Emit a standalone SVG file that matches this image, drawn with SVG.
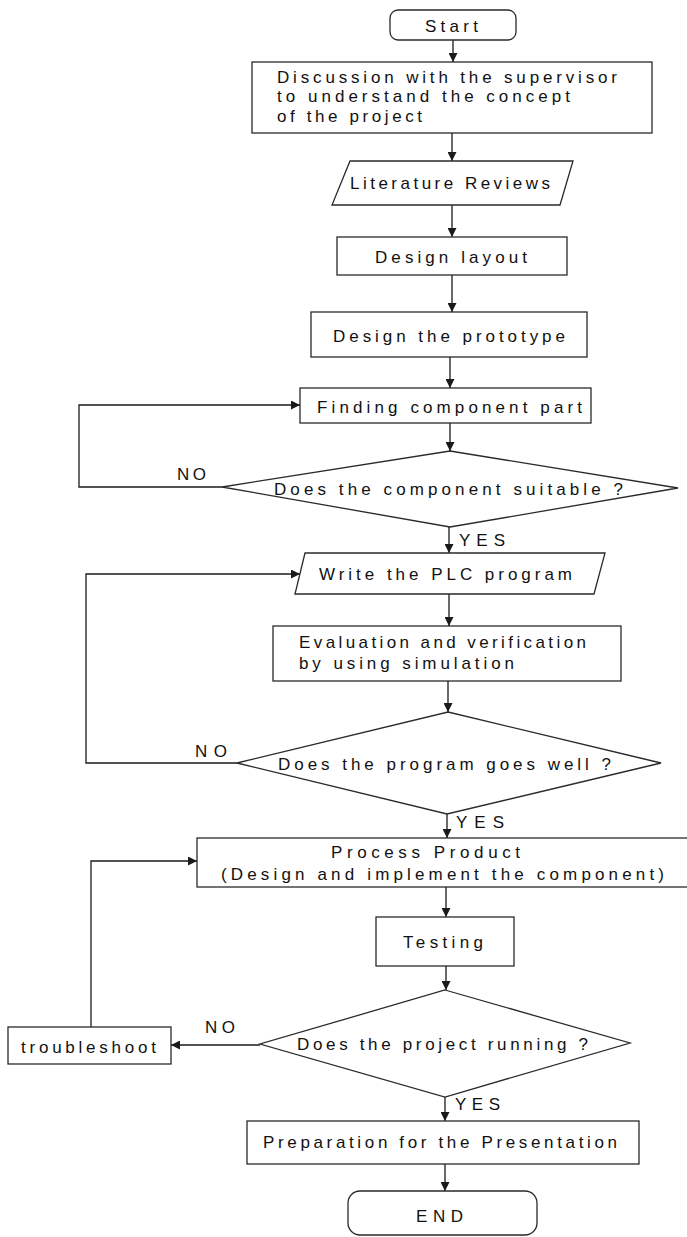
<svg xmlns="http://www.w3.org/2000/svg" width="687" height="1237" viewBox="0 0 687 1237">
<defs>
<marker id="ah" viewBox="0 0 10 10" refX="10" refY="5" markerWidth="9" markerHeight="9" markerUnits="userSpaceOnUse" orient="auto">
<path d="M0,0 L10,5 L0,10 z" fill="#1a1a1a"/>
</marker>
<style>
.n{fill:#fff;stroke:#2a2a2a;stroke-width:1.3}
.t{font-family:"Liberation Sans",Arial,sans-serif;font-size:17px;fill:#111}
.c{fill:none;stroke:#1a1a1a;stroke-width:1.3}
.ca{fill:none;stroke:#1a1a1a;stroke-width:1.3;marker-end:url(#ah)}
</style>
</defs>
<rect width="687" height="1237" fill="#fff"/>

<g id="connectors">
<line class="ca" x1="453" y1="40" x2="453" y2="62"/>
<line class="ca" x1="452" y1="133" x2="452" y2="161"/>
<line class="ca" x1="452" y1="205" x2="452" y2="237"/>
<line class="ca" x1="452" y1="275" x2="452" y2="312"/>
<line class="ca" x1="450" y1="357" x2="450" y2="388"/>
<line class="ca" x1="450" y1="423" x2="450" y2="451"/>
<polyline class="ca" points="222,487 79,487 79,405 300,405"/>
<line class="ca" x1="449" y1="527" x2="449" y2="553"/>
<line class="ca" x1="449" y1="594" x2="449" y2="626"/>
<line class="ca" x1="448" y1="681" x2="448" y2="712"/>
<polyline class="ca" points="237,763 86,763 86,574 300,574"/>
<line class="ca" x1="447" y1="814" x2="447" y2="838"/>
<line class="ca" x1="446" y1="887" x2="446" y2="917"/>
<line class="ca" x1="446" y1="966" x2="446" y2="990"/>
<line class="ca" x1="260" y1="1045" x2="171" y2="1045"/>
<polyline class="ca" points="91,1027 91,861 197,861"/>
<line class="ca" x1="445" y1="1097" x2="445" y2="1121"/>
<line class="ca" x1="445" y1="1164" x2="445" y2="1191"/>
<text class="t" x="177" y="480" textLength="29" lengthAdjust="spacing">NO</text>
<text class="t" x="459" y="546" textLength="46" lengthAdjust="spacing">YES</text>
<text class="t" x="195" y="757" textLength="32" lengthAdjust="spacing">NO</text>
<text class="t" x="456" y="828" textLength="48" lengthAdjust="spacing">YES</text>
<text class="t" x="205" y="1033" textLength="30" lengthAdjust="spacing">NO</text>
<text class="t" x="455" y="1110" textLength="45" lengthAdjust="spacing">YES</text>
</g>

<g id="start">
<rect class="n" x="390" y="10" width="126" height="30" rx="8"/>
<text class="t" x="425" y="32" textLength="53" lengthAdjust="spacing">Start</text>
</g>

<g id="discussion">
<rect class="n" x="252" y="62" width="400" height="71"/>
<text class="t" x="277" y="83" textLength="340" lengthAdjust="spacing">Discussion with the supervisor</text>
<text class="t" x="277" y="102" textLength="293" lengthAdjust="spacing">to understand the concept</text>
<text class="t" x="277" y="122" textLength="145" lengthAdjust="spacing">of the project</text>
</g>

<g id="literature">
<polygon class="n" points="350,161 573,161 560,205 332,205"/>
<text class="t" x="350" y="189" textLength="200" lengthAdjust="spacing">Literature Reviews</text>
</g>

<g id="layout">
<rect class="n" x="337" y="237" width="230" height="38"/>
<text class="t" x="375" y="263" textLength="152" lengthAdjust="spacing">Design layout</text>
</g>

<g id="prototype">
<rect class="n" x="311" y="312" width="276" height="45"/>
<text class="t" x="333" y="342" textLength="232" lengthAdjust="spacing">Design the prototype</text>
</g>

<g id="finding">
<rect class="n" x="300" y="388" width="291" height="35"/>
<text class="t" x="317" y="413" textLength="265" lengthAdjust="spacing">Finding component part</text>
</g>

<g id="decision1">
<polygon class="n" points="450,451 678,488 450,527 222,487"/>
<text class="t" x="274" y="495" textLength="349" lengthAdjust="spacing">Does the component suitable ?</text>
</g>

<g id="plc">
<polygon class="n" points="305,553 605,553 594,594 295,594"/>
<text class="t" x="319" y="580" textLength="253" lengthAdjust="spacing">Write the PLC program</text>
</g>

<g id="evaluation">
<rect class="n" x="273" y="626" width="348" height="55"/>
<text class="t" x="299" y="648" textLength="287" lengthAdjust="spacing">Evaluation and verification</text>
<text class="t" x="299" y="669" textLength="215" lengthAdjust="spacing">by using simulation</text>
</g>

<g id="decision2">
<polygon class="n" points="448,712 661,763 447,814 237,763"/>
<text class="t" x="278" y="770" textLength="333" lengthAdjust="spacing">Does the program goes well ?</text>
</g>

<g id="process">
<rect class="n" x="197" y="838" width="495" height="49"/>
<text class="t" x="331" y="858" textLength="189" lengthAdjust="spacing">Process Product</text>
<text class="t" x="221" y="880" textLength="443" lengthAdjust="spacing">(Design and implement the component)</text>
</g>

<g id="testing">
<rect class="n" x="376" y="917" width="138" height="49"/>
<text class="t" x="403" y="948" textLength="80" lengthAdjust="spacing">Testing</text>
</g>

<g id="decision3">
<polygon class="n" points="445,990 630,1043 445,1097 260,1044"/>
<text class="t" x="297" y="1050" textLength="291" lengthAdjust="spacing">Does the project running ?</text>
</g>

<g id="troubleshoot">
<rect class="n" x="8" y="1027" width="163" height="37"/>
<text class="t" x="21" y="1053" textLength="135" lengthAdjust="spacing">troubleshoot</text>
</g>

<g id="preparation">
<rect class="n" x="247" y="1121" width="392" height="43"/>
<text class="t" x="263" y="1148" textLength="354" lengthAdjust="spacing">Preparation for the Presentation</text>
</g>

<g id="end">
<rect class="n" x="348" y="1191" width="189" height="44" rx="12"/>
<text class="t" x="416" y="1222" textLength="47" lengthAdjust="spacing">END</text>
</g>
</svg>
